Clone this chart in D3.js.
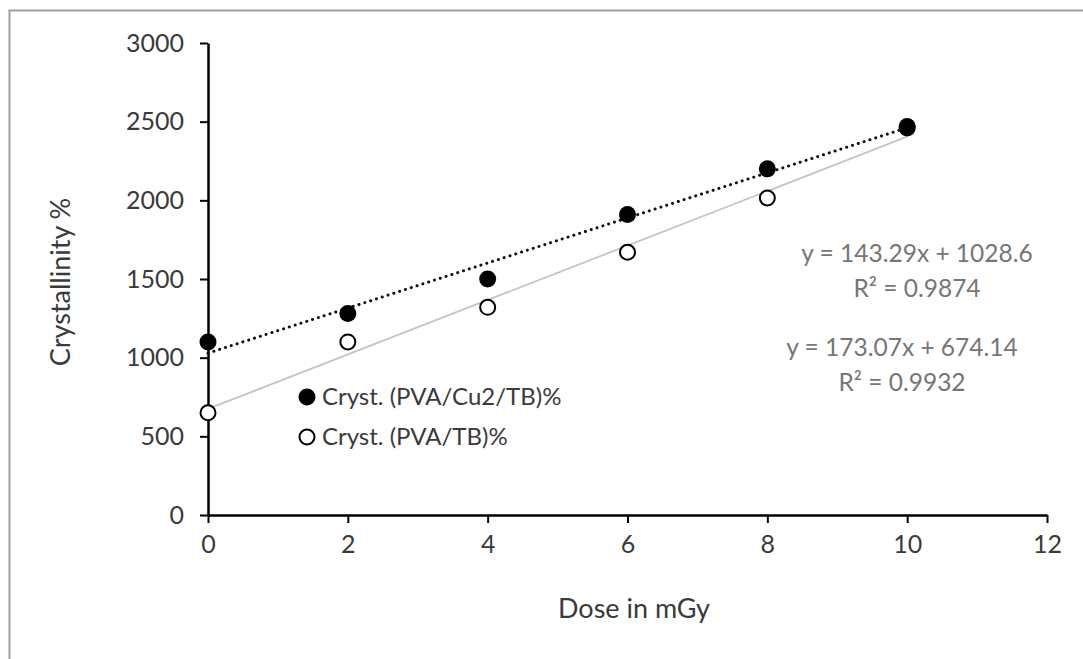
<!DOCTYPE html>
<html>
<head>
<meta charset="utf-8">
<script src="https://cdn.jsdelivr.net/npm/d3@7"></script>
<style>
  body { margin: 0; background: #fff; }
  text { font-family: Lato, "Open Sans", sans-serif; }
</style>
</head>
<body>
<div id="chart"></div>
<script>
const WIDTH = 1083, HEIGHT = 659;
const MARGIN = { top: 43, right: 36, bottom: 144, left: 208 };
const INNER_WIDTH = WIDTH - MARGIN.left - MARGIN.right;
const INNER_HEIGHT = HEIGHT - MARGIN.top - MARGIN.bottom;

// data
const doses = [0, 2, 4, 6, 8, 10];
const crystCu = [1100, 1280, 1500, 1910, 2200, 2470];   // filled markers
const crystTB = [650, 1100, 1320, 1670, 2015, 2460];    // open markers
const xTicks = [0, 2, 4, 6, 8, 10, 12];
const yTicks = [0, 500, 1000, 1500, 2000, 2500, 3000];
const seriesNames = ["Cryst. (PVA/Cu2/TB)%", "Cryst. (PVA/TB)%"];
// linear trendlines as printed on the chart
const trendSlope = [143.29, 173.07];
const trendIntercept = [1028.6, 674.14];
const trendLabels = [["y = 143.29x + 1028.6", "R² = 0.9874"], ["y = 173.07x + 674.14", "R² = 0.9932"]];

const COLOR_TEXT = "#3a3a3a";
const COLOR_EQ = "#767676";

const root = d3.select("#chart")
    .append("svg")
    .attr("width", WIDTH)
    .attr("height", HEIGHT);

// outer chart frame (only top and left edges visible)
root.append("path")
    .attr("d", `M9.5,${HEIGHT} V10.5 H${WIDTH}`)
    .attr("fill", "none")
    .attr("stroke", "#a0a0a0")
    .attr("stroke-width", 2);

const svg = root.append("g")
    .attr("transform", `translate(${MARGIN.left},${MARGIN.top})`);

const x = d3.scaleLinear().domain([0, 12]).range([0, INNER_WIDTH]);
const y = d3.scaleLinear().domain([0, 3000]).range([INNER_HEIGHT, 0]);

// --- Axes ---
const xAxis = svg.append("g")
    .attr("transform", `translate(0,${INNER_HEIGHT})`)
    .call(d3.axisBottom(x).tickValues(xTicks).tickSize(8).tickSizeOuter(0).tickPadding(12));

const yAxis = svg.append("g")
    .call(d3.axisLeft(y).tickValues(yTicks).tickFormat(d3.format("d"))
        .tickSize(8).tickSizeOuter(0).tickPadding(16));

[xAxis, yAxis].forEach(g => {
    g.select(".domain").attr("stroke", "#000").attr("stroke-width", 2.5);
    g.selectAll(".tick line").attr("stroke", "#000").attr("stroke-width", 2);
    g.selectAll(".tick text")
        .attr("fill", COLOR_TEXT)
        .style("font-size", "25px");
});

// --- Trendlines ---
const trendStyles = [
    { stroke: "#111", width: 3, dash: "0.1 6", cap: "round" },
    { stroke: "#c4c4c4", width: 1.8, dash: null, cap: "butt" }
];
trendSlope.forEach((m, i) => {
    const ends = [doses[0], doses[doses.length - 1]].map(d => [d, m * d + trendIntercept[i]]);
    svg.append("path")
        .datum(ends)
        .attr("fill", "none")
        .attr("stroke", trendStyles[i].stroke)
        .attr("stroke-width", trendStyles[i].width)
        .attr("stroke-dasharray", trendStyles[i].dash)
        .attr("stroke-linecap", trendStyles[i].cap)
        .attr("d", d3.line().x(d => x(d[0])).y(d => y(d[1])));
});

// --- Markers ---
svg.selectAll(".dot-tb")
    .data(doses.map((d, i) => [d, crystTB[i]]))
    .join("circle")
    .attr("cx", d => x(d[0]))
    .attr("cy", d => y(d[1]))
    .attr("r", 7.5)
    .attr("fill", "#fff")
    .attr("stroke", "#000")
    .attr("stroke-width", 2);

svg.selectAll(".dot-cu")
    .data(doses.map((d, i) => [d, crystCu[i]]))
    .join("circle")
    .attr("cx", d => x(d[0]))
    .attr("cy", d => y(d[1]))
    .attr("r", 8.5)
    .attr("fill", "#000");

// --- Axis Labels ---
svg.append("text")
    .attr("x", -239)
    .attr("y", -138)
    .attr("transform", "rotate(-90)")
    .attr("text-anchor", "middle")
    .attr("fill", COLOR_TEXT)
    .style("font-size", "27px")
    .text("Crystallinity %");

svg.append("text")
    .attr("x", 426)
    .attr("y", 575)
    .attr("text-anchor", "middle")
    .attr("fill", COLOR_TEXT)
    .style("font-size", "27px")
    .text("Dose in mGy");

// --- Legend ---
const legend = svg.append("g")
    .attr("transform", "translate(99, 354)");

legend.append("circle")
    .attr("cx", 0).attr("cy", 0).attr("r", 8.5)
    .attr("fill", "#000");
legend.append("text").attr("x", 15).attr("y", 8)
    .attr("fill", COLOR_TEXT).style("font-size", "24px")
    .text(seriesNames[0]);

legend.append("circle")
    .attr("cx", 0).attr("cy", 40).attr("r", 7.5)
    .attr("fill", "#fff").attr("stroke", "#000").attr("stroke-width", 2);
legend.append("text").attr("x", 15).attr("y", 48)
    .attr("fill", COLOR_TEXT).style("font-size", "24px")
    .text(seriesNames[1]);

// --- Trendline equations ---
const eqPos = [[709, 219], [694, 313]];
trendLabels.forEach((lines, i) => {
    lines.forEach((t, j) => {
        svg.append("text")
            .attr("x", eqPos[i][0])
            .attr("y", eqPos[i][1] + j * 35)
            .attr("text-anchor", "middle")
            .attr("fill", COLOR_EQ)
            .style("font-size", "24.5px")
            .text(t);
    });
});
</script>
</body>
</html>
